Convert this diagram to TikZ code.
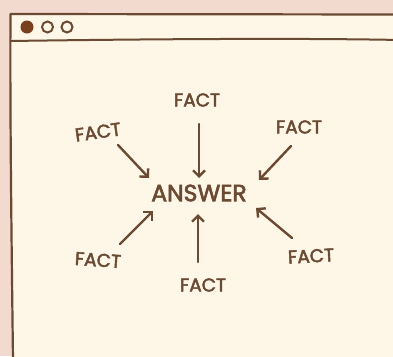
\documentclass[tikz,border=0pt]{standalone}
\usepackage{fontspec}
\newfontfamily\labelfont{Poppins}[FakeBold=2.6]
\usetikzlibrary{arrows.meta}
\definecolor{bgpink}{HTML}{F3DACF}
\definecolor{paper}{HTML}{FEF6E7}
\definecolor{ink}{HTML}{6B4A33}
\definecolor{dotfill}{HTML}{7A3F1E}
\tikzset{
  fact/.style={text=ink, font=\labelfont\fontsize{18.5}{18.5}\selectfont, inner sep=1pt},
  answer/.style={text=ink, font=\labelfont\fontsize{23.5}{23.5}\selectfont, inner sep=1pt},
  arr/.style={draw=ink, line width=2.4pt, line cap=round, -{Straight Barb[length=6pt,width=12pt,line width=2.4pt]}},
  frame/.style={draw=ink, line width=2.2pt, line cap=round, line join=round},
}
\begin{document}
\begin{tikzpicture}[x=1pt,y=-1pt]
\fill[bgpink] (0,0) rectangle (393,356);
\useasboundingbox (0,0) rectangle (393,356);
% window
\fill[paper] (10.5,14) -- (400,14) -- (400,360) -- (13,360) -- cycle;
\draw[frame] (13,360) .. controls (11,200) and (10,100) .. (10.5,14) -- (400,14.5);
\draw[frame, line width=2pt] (10.5,41) .. controls (150,39) and (300,38) .. (400,40);
\fill[dotfill] (27,27) circle (6.5);
\draw[ink, line width=2pt] (47.5,27) circle (5.5);
\draw[ink, line width=2pt] (67,27) circle (5.5);
% texts
\node[answer] (ans) at (199,193) {ANSWER};
\node[fact] (f1) at (197,100) {FACT};
\node[fact, rotate=8] (f2) at (98,132) {FACT};
\node[fact] (f3) at (299,127) {FACT};
\node[fact, rotate=-4] (f4) at (98,260) {FACT};
\node[fact] (f5) at (203,285) {FACT};
\node[fact, rotate=3] (f6) at (311,256) {FACT};
% arrows
\coordinate (a1s) at (199,124); \coordinate (a1e) at (199,178);
\coordinate (a2s) at (118,145); \coordinate (a2e) at (149,178);
\coordinate (a3s) at (291,146); \coordinate (a3e) at (259,180);
\coordinate (a4s) at (120,244); \coordinate (a4e) at (153,211);
\coordinate (a5s) at (198,262); \coordinate (a5e) at (198,214);
\coordinate (a6s) at (292,238); \coordinate (a6e) at (256,208);
\draw[arr] (a1s) -- (a1e);
\draw[arr] (a2s) -- (a2e);
\draw[arr] (a3s) -- (a3e);
\draw[arr] (a4s) -- (a4e);
\draw[arr] (a5s) -- (a5e);
\draw[arr] (a6s) -- (a6e);
\end{tikzpicture}
\end{document}
